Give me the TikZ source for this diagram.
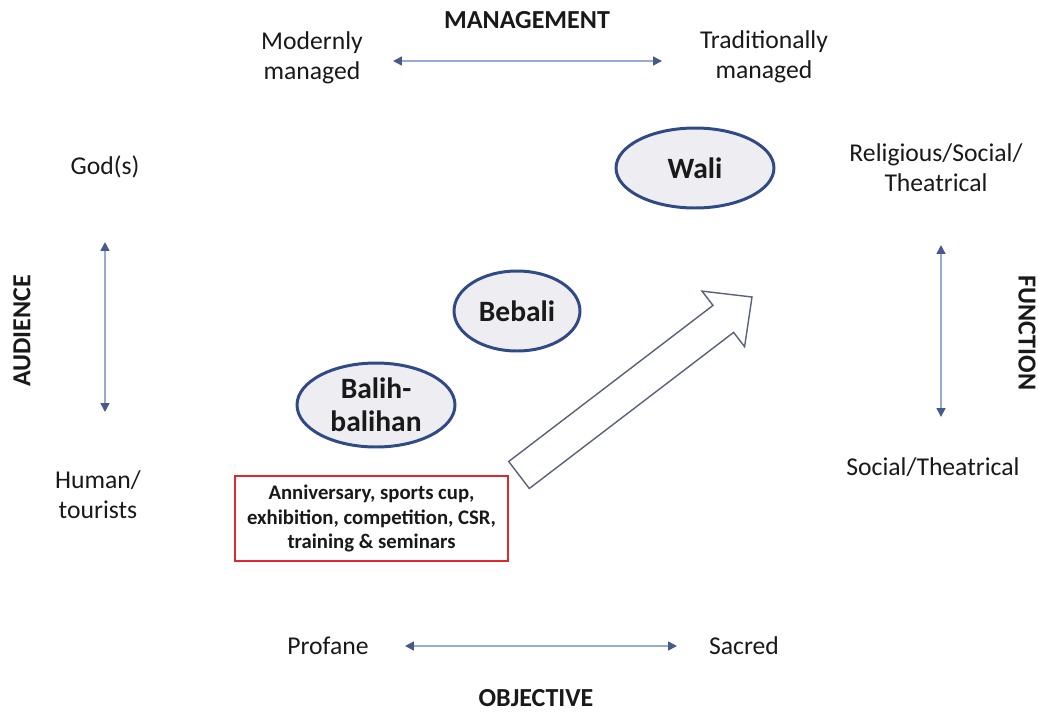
\documentclass[tikz,border=0pt]{standalone}
\usepackage{fontspec}
\setmainfont{Carlito}
\usetikzlibrary{arrows.meta,shapes.geometric}

\definecolor{axisline}{RGB}{150,170,215}
\definecolor{axistip}{RGB}{70,90,140}
\definecolor{ovalline}{RGB}{47,74,134}
\definecolor{ovalfill}{RGB}{238,238,242}
\definecolor{arrowline}{RGB}{90,97,120}
\definecolor{boxred}{RGB}{225,40,45}
\definecolor{txt}{RGB}{25,25,25}

\begin{document}
\begin{tikzpicture}[x=0.02cm,y=-0.02cm]
  \tikzset{
    lbl/.style={text=txt,align=center,inner sep=0pt,font=\fontsize{14.6}{17}\selectfont},
    head/.style={text=txt,inner sep=0pt,font=\fontsize{14.8}{17}\selectfont\bfseries},
    axis/.style={draw=axisline,line width=0.9pt,
      {Triangle[length=5pt,width=5pt,color=axistip]}-{Triangle[length=5pt,width=5pt,color=axistip]}},
    oval/.style={ellipse,draw=ovalline,line width=1.7pt,fill=ovalfill,text=txt,
      align=center,inner sep=0pt,font=\fontsize{16.8}{19}\selectfont\bfseries},
    events/.style={draw=boxred,line width=1.2pt,text=txt,align=center,
      minimum width=5.46cm,minimum height=1.7cm,inner sep=0pt,
      font=\fontsize{11.8}{14}\selectfont\bfseries}
  }
  \useasboundingbox (0,0) rectangle (1038,711);

  % management axis
  \node[head] (mgmt) at (527,20) {MANAGEMENT};
  \node[lbl] (modern) at (312,58) {Modernly\\managed};
  \node[lbl] (trad) at (764,57) {Traditionally\\managed};
  \coordinate (mgmt l) at (393,61);
  \coordinate (mgmt r) at (662,61);
  \draw[axis] (mgmt l) -- (mgmt r);

  % audience axis
  \node[head,rotate=90] (audience) at (22,331) {AUDIENCE};
  \node[lbl] (gods) at (105,167) {God(s)};
  \node[lbl] (human) at (98,495) {Human/\\tourists};
  \coordinate (aud t) at (105,242);
  \coordinate (aud b) at (105,412);
  \draw[axis] (aud t) -- (aud b);

  % function axis
  \node[head,rotate=-90] (function) at (1027,333) {FUNCTION};
  \node[lbl] (relig) at (936,168) {Religious/Social/\\Theatrical};
  \node[lbl] (social) at (933,467) {Social/Theatrical};
  \coordinate (fun t) at (941,245);
  \coordinate (fun b) at (941,417);
  \draw[axis] (fun t) -- (fun b);

  % objective axis
  \node[head] (objective) at (536,698) {OBJECTIVE};
  \node[lbl] (profane) at (328,646) {Profane};
  \node[lbl] (sacred) at (744,646) {Sacred};
  \coordinate (obj l) at (405,646);
  \coordinate (obj r) at (677,646);
  \draw[axis] (obj l) -- (obj r);

  % dance categories
  \node[oval,minimum width=3.16cm,minimum height=1.6cm] (wali) at (695,168) {Wali};
  \node[oval,minimum width=2.52cm,minimum height=1.6cm] (bebali) at (517,311) {Bebali};
  \node[oval,minimum width=3.16cm,minimum height=1.68cm] (balih) at (376,405) {Balih-\\balihan};

  \node[events] (events) at (371.5,518.5) {Anniversary, sports cup,\\exhibition, competition, CSR,\\training \& seminars};

  % big arrow
  \draw[arrowline,line width=0.8pt,fill=white,line join=miter]
    (508.7,461.5) -- (713,305.4) -- (702,291.1) -- (752,297)
    -- (744.6,346.7) -- (733.6,332.4) -- (529.3,488.5) -- cycle;
\end{tikzpicture}
\end{document}
